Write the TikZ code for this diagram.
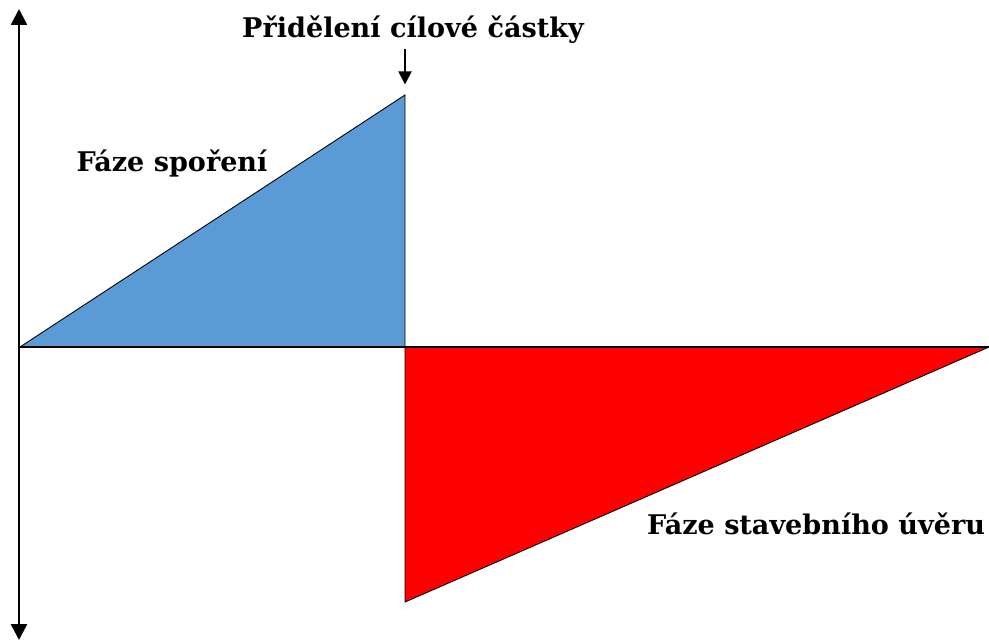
\documentclass[tikz,border=0pt]{standalone}
\usepackage{fontspec}
\setmainfont{DejaVu Serif}
\usetikzlibrary{arrows.meta, positioning}
\definecolor{savingblue}{RGB}{91,155,213}
\tikzset{
    axis/.style={line width=1.4pt, {Triangle[length=9pt, width=9pt]}-{Triangle[length=9pt, width=9pt]}},
    baseline/.style={line width=1pt},
    phase/.style={draw=black, line width=0.5pt},
    phasetext/.style={font=\bfseries\fontsize{15.4}{18}\selectfont, inner sep=1pt},
    pointer/.style={-{Triangle[length=7.5pt, width=7.5pt]}, line width=1.1pt}
}
\begin{document}
\begin{tikzpicture}[x=0.02cm, y=-0.02cm]
    \useasboundingbox (0,0) rectangle (989,643);
    \coordinate (origin) at (20,347);
    \coordinate (peak) at (405,95);
    \coordinate (split) at (405,347);
    \coordinate (far) at (989,347);
    \coordinate (low) at (405,602);
    \coordinate (top) at (19,9);
    \coordinate (bottom) at (19,640);

    \fill [savingblue] (origin) -- (peak) -- (split) -- cycle;
    \fill [red] (split) -- (far) -- (low) -- cycle;
    \draw [phase] (origin) -- (peak) -- (split);
    \draw [phase] (split) -- (low) -- (far);
    \draw [baseline] (origin) -- (far);
    \draw [axis] (bottom) -- (top);

    \node (target) [phasetext] at (413,30) {Přidělení cílové částky};
    \node (saving) [phasetext] at (172,163) {Fáze spoření};
    \node (loan) [phasetext] at (816,524) {Fáze stavebního úvěru};

    \draw [pointer, shorten <=1.5pt, shorten >=6pt] (target.south -| peak) -- (peak);
\end{tikzpicture}
\end{document}
